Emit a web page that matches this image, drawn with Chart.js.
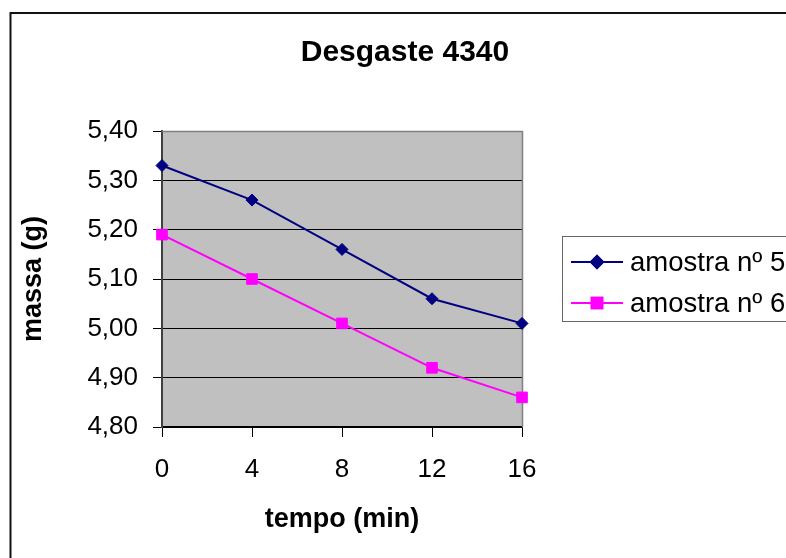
<!DOCTYPE html>
<html>
<head>
<meta charset="utf-8">
<title>Desgaste 4340</title>
<script src="https://cdn.jsdelivr.net/npm/chart.js@4.4.0/dist/chart.umd.min.js"></script>
<style>
  html, body { margin: 0; padding: 0; background: #fff; }
  #wrap { width: 786px; height: 558px; position: relative; }
</style>
</head>
<body>
<div id="wrap"><canvas id="desgaste"></canvas></div>
<script>
// ----------------- dados -----------------
const titulo = 'Desgaste 4340';
const tempos = ['0', '4', '8', '12', '16'];          // min
const amostra5 = [5.33, 5.26, 5.16, 5.06, 5.01];      // g
const amostra6 = [5.19, 5.10, 5.01, 4.92, 4.86];      // g
const nomes = ['amostra nº 5', 'amostra nº 6'];
const yMin = 4.8, yMax = 5.4, yPasso = 0.1;

const fonte = '"Liberation Sans", Arial, sans-serif';

// ----------------- fundo, moldura, título e legenda -----------------
const moldura = {
  id: 'moldura',
  beforeDraw(chart) {
    const { ctx, chartArea: a } = chart;
    ctx.save();
    ctx.fillStyle = '#fff';
    ctx.fillRect(0, 0, chart.width, chart.height);
    ctx.fillStyle = '#c0c0c0';
    ctx.fillRect(a.left, a.top, a.right - a.left, a.bottom - a.top);
    ctx.restore();
  },
  beforeDatasetsDraw(chart) {
    const { ctx, chartArea: a } = chart;
    ctx.save();
    ctx.strokeStyle = '#808080';
    ctx.lineWidth = 1.5;
    ctx.beginPath();
    ctx.moveTo(a.left, a.top + 0.5);
    ctx.lineTo(a.right + 0.5, a.top + 0.5);
    ctx.lineTo(a.right + 0.5, a.bottom);
    ctx.stroke();
    ctx.restore();
  },
  afterDraw(chart) {
    const ctx = chart.ctx;
    ctx.save();
    // contorno da área do gráfico
    ctx.strokeStyle = '#111';
    ctx.lineWidth = 2;
    ctx.strokeRect(10.5, 13, 800, 560);

    // título
    ctx.fillStyle = '#000';
    ctx.font = 'bold 30px ' + fonte;
    ctx.textAlign = 'center';
    ctx.textBaseline = 'middle';
    ctx.fillText(titulo, 405, 53);

    // legenda
    ctx.strokeStyle = '#666';
    ctx.lineWidth = 1;
    ctx.fillStyle = '#fff';
    ctx.fillRect(562.5, 236.5, 260, 85);
    ctx.strokeRect(562.5, 236.5, 260, 85);
    chart.data.datasets.forEach((ds, i) => {
      const y = 262 + i * 41;
      ctx.strokeStyle = ds.borderColor;
      ctx.lineWidth = 2;
      ctx.beginPath();
      ctx.moveTo(571, y);
      ctx.lineTo(623, y);
      ctx.stroke();
      Chart.helpers.drawPoint(ctx, {
        pointStyle: ds.pointStyle,
        radius: ds.pointRadius,
        borderWidth: 1,
        rotation: 0
      }, 597, y);
      ctx.fillStyle = ds.backgroundColor;
      ctx.strokeStyle = ds.borderColor;
      ctx.fill();
      ctx.stroke();
      ctx.fillStyle = '#000';
      ctx.font = '27.5px ' + fonte;
      ctx.textBaseline = 'middle';
      ctx.textAlign = 'left';
      ctx.fillText(ds.label, 630, y + 1);
    });
    ctx.restore();
  }
};

// ----------------- gráfico -----------------
const ctx = document.getElementById('desgaste').getContext('2d');
const grafico = new Chart(ctx, {
  type: 'line',
  data: {
    labels: tempos,
    datasets: [{
      label: nomes[0],
      data: amostra5,
      borderColor: '#000080',
      backgroundColor: '#000080',
      borderWidth: 2,
      pointStyle: 'rectRot',
      pointRadius: 6,
      pointBorderWidth: 1,
      tension: 0,
      clip: false
    }, {
      label: nomes[1],
      data: amostra6,
      borderColor: '#ff00ff',
      backgroundColor: '#ff00ff',
      borderWidth: 2,
      pointStyle: 'rect',
      pointRadius: 7.5,
      pointBorderWidth: 1,
      tension: 0,
      clip: false
    }]
  },
  options: {
    responsive: true,
    maintainAspectRatio: false,
    animation: false,
    layout: { padding: { left: 0, top: 131, right: 264, bottom: 0 } },
    plugins: {
      legend: { display: false },
      tooltip: { enabled: false },
      title: { display: false }
    },
    scales: {
      x: {
        offset: false,
        afterFit(s) { s.height = 131; },
        grid: {
          drawOnChartArea: false,
          drawTicks: true,
          tickLength: 10,
          tickColor: '#000'
        },
        border: { color: '#000', width: 1.5 },
        ticks: {
          color: '#000',
          padding: 17,
          maxRotation: 0,
          font: { family: fonte, size: 26 }
        },
        title: {
          display: true,
          text: 'tempo (min)',
          color: '#000',
          font: { family: fonte, size: 27, weight: 'bold' },
          padding: { top: 0, bottom: 22 }
        }
      },
      y: {
        min: yMin,
        max: yMax,
        afterFit(s) { s.width = 162; },
        grid: {
          color: c => (c.index === c.chart.scales.y.ticks.length - 1 ? '#808080' : '#000'),
          lineWidth: 1,
          drawTicks: true,
          tickLength: 9,
          tickColor: '#000'
        },
        border: { color: '#404040', width: 2 },
        ticks: {
          stepSize: yPasso,
          color: '#000',
          padding: 15,
          font: { family: fonte, size: 26 },
          callback: v => v.toFixed(2).replace('.', ',')
        },
        title: {
          display: true,
          text: 'massa (g)',
          color: '#000',
          font: { family: fonte, size: 27, weight: 'bold' },
          padding: { top: 17, bottom: 0 }
        }
      }
    }
  },
  plugins: [moldura]
});
</script>
</body>
</html>
